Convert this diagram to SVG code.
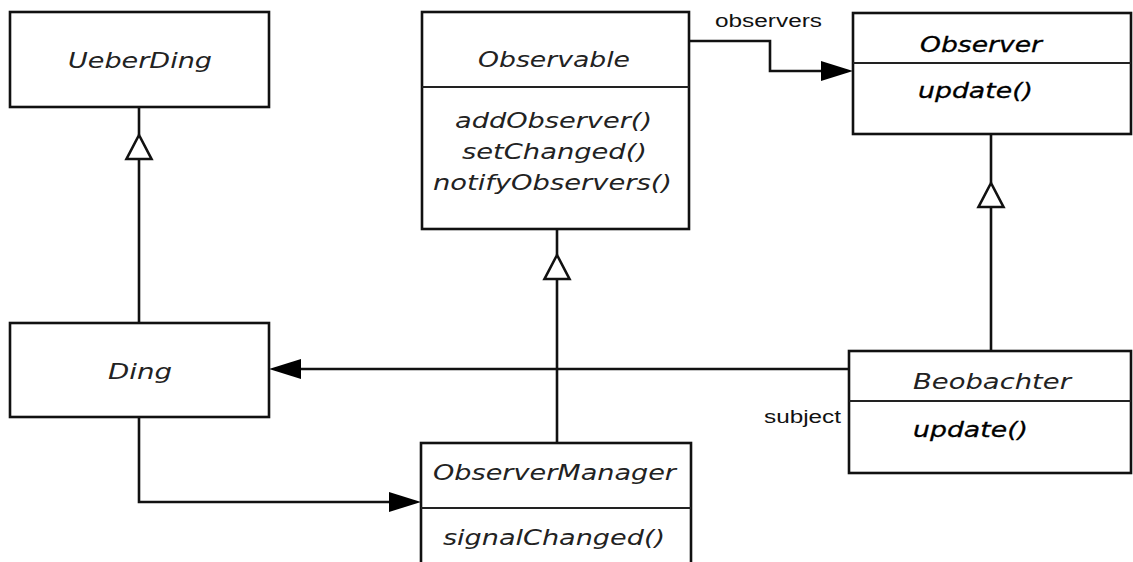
<svg xmlns="http://www.w3.org/2000/svg" xmlns:xlink="http://www.w3.org/1999/xlink" width="1133" height="562" viewBox="0 0 1133 562">
<style>
.box{fill:#fff;stroke:#111;stroke-width:2.6}
.div{stroke:#222;stroke-width:2}
.t{font-family:"DejaVu Sans",Verdana,sans-serif;font-style:italic;font-size:22px;fill:#222}
.dk{fill:#000;stroke:#000;stroke-width:0.3}
.lbl{font-family:"Liberation Sans",Arial,sans-serif;font-size:18px;fill:#111}
.ln{fill:none;stroke:#111;stroke-width:2.6}
.gen{fill:#fff;stroke:#111;stroke-width:2.6;stroke-linejoin:miter}
.arr{fill:#000;stroke:none}
</style>
<defs>
<polygon id="genTri" class="gen" points="0,0 -12.5,24 12.5,24"/>
<polygon id="arrowR" class="arr" points="0,0 -32,-10 -32,10"/>
</defs>
<rect width="1133" height="562" fill="#fff"/>

<g id="connectors">
<line class="ln" x1="139" y1="107" x2="139" y2="135"/>
<line class="ln" x1="139" y1="159" x2="139" y2="323"/>
<use href="#genTri" x="139" y="135"/>
<line class="ln" x1="557" y1="229" x2="557" y2="255"/>
<line class="ln" x1="557" y1="279" x2="557" y2="443"/>
<use href="#genTri" x="557" y="255"/>
<line class="ln" x1="991" y1="134" x2="991" y2="183"/>
<line class="ln" x1="991" y1="207" x2="991" y2="351"/>
<use href="#genTri" x="991" y="183"/>
<path class="ln" d="M689,41 H770 V71 H824"/>
<use href="#arrowR" transform="translate(853,71)"/>
<text class="lbl" x="715" y="27" textLength="107" lengthAdjust="spacingAndGlyphs">observers</text>
<line class="ln" x1="849" y1="369" x2="297" y2="369"/>
<use href="#arrowR" transform="translate(269,369) rotate(180)"/>
<text class="lbl" x="764" y="423" textLength="77" lengthAdjust="spacingAndGlyphs">subject</text>
<path class="ln" d="M139,417 V502 H392"/>
<use href="#arrowR" transform="translate(421,502)"/>
</g>

<g id="UeberDing">
<rect class="box" x="10" y="12" width="259" height="95"/>
<text class="t" x="68" y="68" textLength="144" lengthAdjust="spacingAndGlyphs">UeberDing</text>
</g>

<g id="Ding">
<rect class="box" x="10" y="323" width="259" height="94"/>
<text class="t" x="108" y="379" textLength="64" lengthAdjust="spacingAndGlyphs">Ding</text>
</g>

<g id="Observable">
<rect class="box" x="422" y="12" width="267" height="217"/>
<line class="div" x1="422" y1="87" x2="689" y2="87"/>
<text class="t" x="478" y="67" textLength="152" lengthAdjust="spacingAndGlyphs">Observable</text>
<text class="t" x="455" y="128" textLength="197" lengthAdjust="spacingAndGlyphs">addObserver()</text>
<text class="t" x="462" y="159" textLength="185" lengthAdjust="spacingAndGlyphs">setChanged()</text>
<text class="t" x="433" y="190" textLength="239" lengthAdjust="spacingAndGlyphs">notifyObservers()</text>
</g>

<g id="Observer">
<rect class="box" x="853" y="13" width="278" height="121"/>
<line class="div" x1="853" y1="63" x2="1131" y2="63"/>
<text class="t dk" x="920" y="52" textLength="122" lengthAdjust="spacingAndGlyphs">Observer</text>
<text class="t dk" x="918" y="98" textLength="115" lengthAdjust="spacingAndGlyphs">update()</text>
</g>

<g id="Beobachter">
<rect class="box" x="849" y="351" width="282" height="122"/>
<line class="div" x1="849" y1="401" x2="1131" y2="401"/>
<text class="t" x="913" y="389" textLength="158" lengthAdjust="spacingAndGlyphs">Beobachter</text>
<text class="t dk" x="913" y="437" textLength="115" lengthAdjust="spacingAndGlyphs">update()</text>
</g>

<g id="ObserverManager">
<rect class="box" x="421" y="443" width="270" height="140"/>
<line class="div" x1="421" y1="508" x2="691" y2="508"/>
<text class="t" x="433" y="480" textLength="243" lengthAdjust="spacingAndGlyphs">ObserverManager</text>
<text class="t" x="443" y="545" textLength="222" lengthAdjust="spacingAndGlyphs">signalChanged()</text>
</g>
</svg>
